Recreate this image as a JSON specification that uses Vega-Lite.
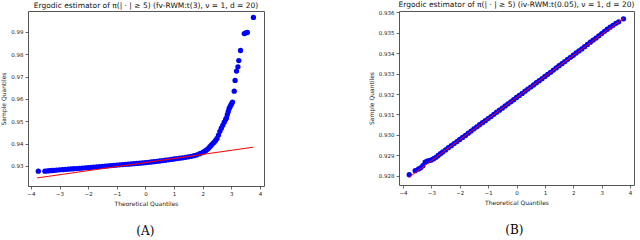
{
  "$schema": "https://vega.github.io/schema/vega-lite/v6.json",
  "padding": {"left": 0, "top": 0, "right": 0, "bottom": 0},
  "config": {
    "font": "DejaVu Sans",
    "view": {"stroke": "#555", "strokeWidth": 1},
    "axis": {
      "domain": false,
      "grid": false,
      "tickSize": 3,
      "tickCount": 20,
      "tickColor": "#444",
      "tickWidth": 0.8,
      "labelFontSize": 5.5,
      "labelColor": "#222",
      "labelPadding": 2,
      "labelOverlap": false,
      "labelBound": false,
      "titleFontSize": 6,
      "titleFontWeight": "normal",
      "titleColor": "#222"
    },
    "title": {"fontSize": 7.5, "fontWeight": "normal", "color": "#111", "offset": 2}
  },
  "spacing": 102,
  "datasets": {
    "a_pts": [
      {"q": -3.74, "s": 0.92762}, {"q": -3.51, "s": 0.92765}, {"q": -3.42, "s": 0.92775}, {"q": -3.34, "s": 0.92785},
      {"q": -3.26, "s": 0.92795}, {"q": -3.18, "s": 0.92804}, {"q": -3.10, "s": 0.92813}, {"q": -3.0, "s": 0.92823},
      {"q": -2.9, "s": 0.92833}, {"q": -2.8, "s": 0.92843}, {"q": -2.7, "s": 0.92853}, {"q": -2.6, "s": 0.92863},
      {"q": -2.5, "s": 0.92873}, {"q": -2.4, "s": 0.92883}, {"q": -2.3, "s": 0.92894}, {"q": -2.2, "s": 0.92904},
      {"q": -2.1, "s": 0.92915}, {"q": -2.0, "s": 0.92926}, {"q": -1.9, "s": 0.92937}, {"q": -1.8, "s": 0.92948},
      {"q": -1.7, "s": 0.92959}, {"q": -1.6, "s": 0.92970}, {"q": -1.5, "s": 0.92981}, {"q": -1.4, "s": 0.92992},
      {"q": -1.3, "s": 0.93003}, {"q": -1.2, "s": 0.93014}, {"q": -1.1, "s": 0.93025}, {"q": -1.0, "s": 0.93036},
      {"q": -0.9, "s": 0.93047}, {"q": -0.8, "s": 0.93058}, {"q": -0.7, "s": 0.93069}, {"q": -0.6, "s": 0.93080},
      {"q": -0.5, "s": 0.93091}, {"q": -0.4, "s": 0.93102}, {"q": -0.3, "s": 0.93113}, {"q": -0.2, "s": 0.93124},
      {"q": -0.1, "s": 0.93135}, {"q": 0.0, "s": 0.93146}, {"q": 0.1, "s": 0.93160}, {"q": 0.2, "s": 0.93175},
      {"q": 0.3, "s": 0.93190}, {"q": 0.4, "s": 0.93205}, {"q": 0.5, "s": 0.93220}, {"q": 0.6, "s": 0.93237},
      {"q": 0.7, "s": 0.93254}, {"q": 0.8, "s": 0.93274}, {"q": 0.9, "s": 0.93292}, {"q": 1.0, "s": 0.93310},
      {"q": 1.1, "s": 0.93327}, {"q": 1.2, "s": 0.93345}, {"q": 1.3, "s": 0.93363}, {"q": 1.4, "s": 0.93383},
      {"q": 1.5, "s": 0.93405}, {"q": 1.6, "s": 0.93430}, {"q": 1.7, "s": 0.93460}, {"q": 1.8, "s": 0.93495},
      {"q": 1.9, "s": 0.93550}, {"q": 2.0, "s": 0.93600}, {"q": 2.05, "s": 0.93640}, {"q": 2.1, "s": 0.93680},
      {"q": 2.15, "s": 0.93730}, {"q": 2.2, "s": 0.93790}, {"q": 2.25, "s": 0.93860}, {"q": 2.3, "s": 0.93930},
      {"q": 2.35, "s": 0.94000}, {"q": 2.4, "s": 0.94060}, {"q": 2.45, "s": 0.94140}, {"q": 2.5, "s": 0.94230},
      {"q": 2.55, "s": 0.94380}, {"q": 2.6, "s": 0.94550}, {"q": 2.65, "s": 0.94690}, {"q": 2.7, "s": 0.94820},
      {"q": 2.75, "s": 0.94960}, {"q": 2.8, "s": 0.95080}, {"q": 2.83, "s": 0.95150}, {"q": 2.86, "s": 0.95300},
      {"q": 2.89, "s": 0.95430}, {"q": 2.92, "s": 0.95560}, {"q": 2.95, "s": 0.95640}, {"q": 2.98, "s": 0.95720},
      {"q": 3.01, "s": 0.95790}, {"q": 3.04, "s": 0.95860}, {"q": 3.10, "s": 0.96350}, {"q": 3.13, "s": 0.96830},
      {"q": 3.18, "s": 0.97250}, {"q": 3.23, "s": 0.97440}, {"q": 3.26, "s": 0.97720}, {"q": 3.32, "s": 0.98170},
      {"q": 3.45, "s": 0.98930}, {"q": 3.50, "s": 0.98960}, {"q": 3.56, "s": 0.98980}, {"q": 3.77, "s": 0.99650}
    ],
    "a_line": [{"q": -3.78, "s": 0.92462}, {"q": 3.77, "s": 0.93840}],
    "b_pts": [
      {"q": -3.78, "s": 0.92806}, {"q": -3.57, "s": 0.92826}, {"q": -3.45, "s": 0.92834}, {"q": -3.38, "s": 0.92840},
      {"q": -3.30, "s": 0.92850}, {"q": -3.22, "s": 0.92868}, {"q": -3.15, "s": 0.92872}, {"q": -3.08, "s": 0.92875},
      {"q": -3.0, "s": 0.92878}, {"q": -2.92, "s": 0.92884}, {"q": -2.84, "s": 0.92891}, {"q": -2.76, "s": 0.92900},
      {"q": -2.68, "s": 0.92909}, {"q": -2.6, "s": 0.92917}, {"q": -2.5, "s": 0.92927}, {"q": -2.4, "s": 0.92938},
      {"q": -2.3, "s": 0.92948}, {"q": -2.2, "s": 0.92958}, {"q": -2.1, "s": 0.92968}, {"q": -2.0, "s": 0.92978},
      {"q": -1.9, "s": 0.92988}, {"q": -1.8, "s": 0.92998}, {"q": -1.7, "s": 0.93009}, {"q": -1.6, "s": 0.93019},
      {"q": -1.5, "s": 0.93030}, {"q": -1.4, "s": 0.93040}, {"q": -1.3, "s": 0.93050}, {"q": -1.2, "s": 0.93060},
      {"q": -1.1, "s": 0.93070}, {"q": -1.0, "s": 0.93080}, {"q": -0.9, "s": 0.93090}, {"q": -0.8, "s": 0.93101},
      {"q": -0.7, "s": 0.93111}, {"q": -0.6, "s": 0.93121}, {"q": -0.5, "s": 0.93131}, {"q": -0.4, "s": 0.93142},
      {"q": -0.3, "s": 0.93152}, {"q": -0.2, "s": 0.93162}, {"q": -0.1, "s": 0.93172}, {"q": 0.0, "s": 0.93183},
      {"q": 0.1, "s": 0.93193}, {"q": 0.2, "s": 0.93203}, {"q": 0.3, "s": 0.93214}, {"q": 0.4, "s": 0.93224},
      {"q": 0.5, "s": 0.93234}, {"q": 0.6, "s": 0.93244}, {"q": 0.7, "s": 0.93255}, {"q": 0.8, "s": 0.93265},
      {"q": 0.9, "s": 0.93275}, {"q": 1.0, "s": 0.93286}, {"q": 1.1, "s": 0.93296}, {"q": 1.2, "s": 0.93306},
      {"q": 1.3, "s": 0.93317}, {"q": 1.4, "s": 0.93327}, {"q": 1.5, "s": 0.93338}, {"q": 1.6, "s": 0.93348},
      {"q": 1.7, "s": 0.93358}, {"q": 1.8, "s": 0.93369}, {"q": 1.9, "s": 0.93379}, {"q": 2.0, "s": 0.93389},
      {"q": 2.1, "s": 0.93400}, {"q": 2.2, "s": 0.93410}, {"q": 2.3, "s": 0.93420}, {"q": 2.4, "s": 0.93431},
      {"q": 2.5, "s": 0.93442}, {"q": 2.6, "s": 0.93453}, {"q": 2.7, "s": 0.93463}, {"q": 2.8, "s": 0.93473},
      {"q": 2.9, "s": 0.93484}, {"q": 3.0, "s": 0.93495}, {"q": 3.1, "s": 0.93506}, {"q": 3.2, "s": 0.93516},
      {"q": 3.3, "s": 0.93526}, {"q": 3.4, "s": 0.93535}, {"q": 3.5, "s": 0.93545}, {"q": 3.6, "s": 0.93552},
      {"q": 3.77, "s": 0.93567}
    ],
    "b_line": [{"q": -3.78, "s": 0.92794}, {"q": 3.79, "s": 0.93572}]
  },
  "hconcat": [
    {
      "title": {"text": "(A)", "orient": "bottom", "anchor": "middle", "dx": 13, "font": "DejaVu Serif", "fontSize": 12, "offset": 19, "color": "#000"},
      "vconcat": [
        {
          "width": 236,
          "height": 175,
          "title": {"text": "Ergodic estimator of π(| · | ≥ 5) (fv-RWM:t(3), ν = 1, d = 20)", "anchor": "middle"},
          "layer": [
            {
              "data": {"name": "a_pts"},
              "mark": {"type": "circle", "size": 28, "color": "#0000ff", "opacity": 1},
              "encoding": {
                "x": {"field": "q", "type": "quantitative", "scale": {"domain": [-4.1, 4.14], "nice": false, "zero": false},
                      "axis": {"values": [-4, -3, -2, -1, 0, 1, 2, 3, 4], "format": "d", "tickCount": 20, "labelOverlap": false, "title": "Theoretical Quantiles"}},
                "y": {"field": "s", "type": "quantitative", "scale": {"domain": [0.921, 0.9994], "nice": false, "zero": false},
                      "axis": {"values": [0.93, 0.94, 0.95, 0.96, 0.97, 0.98, 0.99], "tickCount": 20, "labelOverlap": false, "format": ".2f", "title": "Sample Quantiles"}}
              }
            },
            {
              "data": {"name": "a_line"},
              "mark": {"type": "line", "color": "#ff0000", "strokeWidth": 1},
              "encoding": {
                "x": {"field": "q", "type": "quantitative"},
                "y": {"field": "s", "type": "quantitative"}
              }
            }
          ]
        }
      ]
    },
    {
      "title": {"text": "(B)", "orient": "bottom", "anchor": "middle", "dx": 13, "font": "DejaVu Serif", "fontSize": 12, "offset": 19, "color": "#000"},
      "vconcat": [
        {
          "width": 235,
          "height": 174,
          "title": {"text": "Ergodic estimator of π(| · | ≥ 5) (iv-RWM:t(0.05), ν = 1, d = 20)", "anchor": "middle"},
          "layer": [
            {
              "data": {"name": "b_pts"},
              "mark": {"type": "circle", "size": 28, "color": "#0000ff", "opacity": 1},
              "encoding": {
                "x": {"field": "q", "type": "quantitative", "scale": {"domain": [-4.14, 4.14], "nice": false, "zero": false},
                      "axis": {"values": [-4, -3, -2, -1, 0, 1, 2, 3, 4], "format": "d", "tickCount": 20, "labelOverlap": false, "title": "Theoretical Quantiles"}},
                "y": {"field": "s", "type": "quantitative", "scale": {"domain": [0.92756, 0.93605], "nice": false, "zero": false},
                      "axis": {"values": [0.928, 0.929, 0.93, 0.931, 0.932, 0.933, 0.934, 0.935, 0.936], "tickCount": 20, "labelOverlap": false, "format": ".3f", "title": "Sample Quantiles"}}
              }
            },
            {
              "data": {"name": "b_line"},
              "mark": {"type": "line", "color": "#ff0000", "strokeWidth": 1},
              "encoding": {
                "x": {"field": "q", "type": "quantitative"},
                "y": {"field": "s", "type": "quantitative"}
              }
            }
          ]
        }
      ]
    }
  ]
}
